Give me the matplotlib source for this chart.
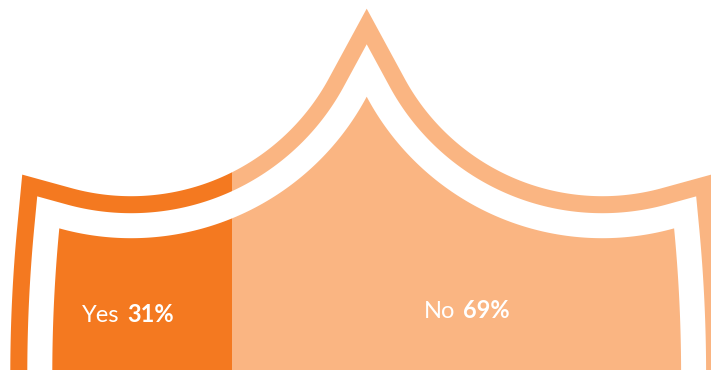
import matplotlib.pyplot as plt
import numpy as np
from matplotlib.path import Path
from matplotlib.patches import PathPatch, Rectangle

labels = ['Yes', 'No']
shares = [31, 69]
colors = ['#F47920', '#FAB582']
label_x = [128, 467]
label_y = [322, 318]

W, H = 711, 370
fig = plt.figure(figsize=(W / 100, H / 100), dpi=100)
ax = fig.add_axes([0, 0, 1, 1])
ax.set_xlim(0, W)
ax.set_ylim(H, 0)
ax.axis('off')

# inner shield outline, pixel units
cx = 366.7
ac_x, ac_y, ac_r = 131.1, -28.7, 266.9
xs = np.linspace(59.3, cx, 150)
ys = ac_y + np.sqrt(ac_r ** 2 - (xs - ac_x) ** 2)
side_y = np.linspace(420, ys[0], 80)
t = np.clip((374 - side_y) / (374 - ys[0]), 0, None)
side_x = 52.3 + (xs[0] - 52.3) * t ** 2

left_x = np.concatenate([side_x, xs[1:]])
left_y = np.concatenate([side_y, ys[1:]])
px = np.concatenate([left_x, 2 * cx - left_x[::-1][1:]])
py = np.concatenate([left_y, left_y[::-1][1:]])
verts = np.column_stack([px, py])
verts = np.vstack([verts, verts[:1]])
codes = [Path.MOVETO] + [Path.LINETO] * (len(verts) - 2) + [Path.CLOSEPOLY]
shield = Path(verts, codes)

band, gap = 17, 25
pt = 0.72  # points per pixel at 100 dpi

# split position from the shares
x0, x1 = 12.7, 2 * cx - 12.7
split = x0 + (x1 - x0) * shares[0] / sum(shares)
spans = [(0, split), (split, W)]

for (a, b), col in zip(spans, colors):
    clip = Rectangle((a, 0), b - a, H, transform=ax.transData)
    layers = [
        PathPatch(shield, facecolor=col, edgecolor=col, lw=2 * (band + gap) * pt, joinstyle='miter'),
        PathPatch(shield, facecolor='none', edgecolor='white', lw=2 * gap * pt, joinstyle='miter'),
        PathPatch(shield, facecolor=col, edgecolor='none'),
    ]
    for p in layers:
        ax.add_patch(p)
        p.set_clip_path(clip)

fig.canvas.draw()
r = fig.canvas.get_renderer()
fs = 17
for lab, sh, x, y in zip(labels, shares, label_x, label_y):
    t1 = ax.text(x, y, lab, color='white', fontsize=fs, family='Lato', va='baseline', ha='left')
    t2 = ax.text(x, y, f'{sh}%', color='white', fontsize=fs, family='Lato', weight='bold', va='baseline', ha='left')
    w1 = t1.get_window_extent(r).width
    w2 = t2.get_window_extent(r).width
    sp = 8
    start = x - (w1 + sp + w2) / 2
    t1.set_x(start)
    t2.set_x(start + w1 + sp)

fig.savefig('out.png', dpi=100)
